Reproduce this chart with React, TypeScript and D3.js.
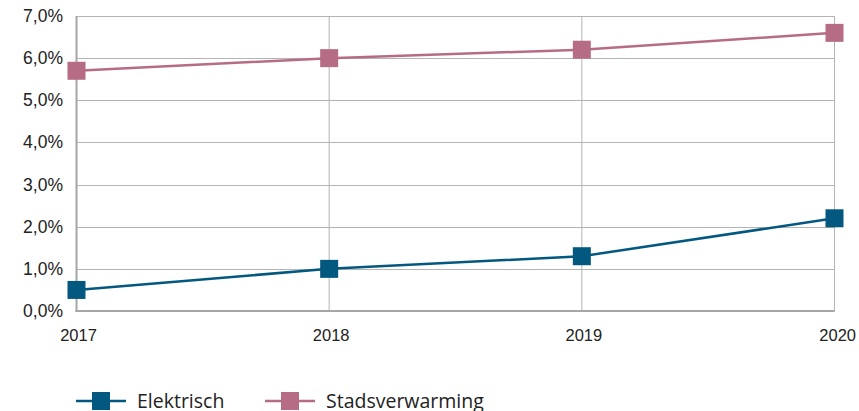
import React from "react";
import * as d3 from "d3";

const years = ["2017", "2018", "2019", "2020"];
const elektrisch = [0.5, 1.0, 1.3, 2.2];
const stadsverwarming = [5.7, 6.0, 6.2, 6.6];
const yTicks = [0, 1, 2, 3, 4, 5, 6, 7];

const series = [
  { name: "Elektrisch", values: elektrisch, color: "#03587f" },
  { name: "Stadsverwarming", values: stadsverwarming, color: "#b76c85" },
];

export default function App() {
  const W = 859, H = 411;
  const left = 76.5, right = 834.5, top = 16, bottom = 311;
  const x = d3.scalePoint<string>().domain(years).range([left, right]);
  const y = d3.scaleLinear().domain([0, 7]).range([bottom, top]);
  const line = d3.line<number>().x((_, i) => x(years[i])!).y((v) => y(v));
  const fmt = (v: number) => v.toFixed(1).replace(".", ",") + "%";
  const ms = 18;
  return (
    <svg width={W} height={H} style={{ position: "absolute", left: 0, top: 0 }}>
      <rect width={W} height={H} fill="#fff" />
      {yTicks.map((t) => (
        <line key={"g" + t} x1={left} x2={right} y1={Math.round(y(t)) + 0.5} y2={Math.round(y(t)) + 0.5} stroke="#b4b4b4" strokeWidth={1} />
      ))}
      {years.map((yr) => (
        <line key={"v" + yr} x1={x(yr)} x2={x(yr)} y1={top} y2={bottom} stroke="#b4b4b4" strokeWidth={1} />
      ))}
      <line x1={left} x2={left} y1={top} y2={bottom + 1} stroke="#a6a6a6" strokeWidth={2} />
      <line x1={left - 1} x2={right} y1={bottom} y2={bottom} stroke="#a6a6a6" strokeWidth={2} />
      {yTicks.map((t) => (
        <text key={"t" + t} x={63} y={y(t) + 6} textAnchor="end" fontFamily="Liberation Sans, Arial, sans-serif" fontSize={17.5} fill="#222">
          {fmt(t)}
        </text>
      ))}
      {years.map((yr, i) => (
        <text key={"x" + yr} x={i === years.length - 1 ? 856 : x(yr)! + 2} y={341} textAnchor={i === years.length - 1 ? "end" : "middle"} fontFamily="Liberation Sans, Arial, sans-serif" fontSize={16.5} fill="#222">
          {yr}
        </text>
      ))}
      {series.map((s) => (
        <g key={s.name}>
          <path d={line(s.values)!} fill="none" stroke={s.color} strokeWidth={2.5} />
          {s.values.map((v, i) => (
            <rect key={i} x={x(years[i])! - ms / 2} y={y(v) - ms / 2} width={ms} height={ms} fill={s.color} />
          ))}
        </g>
      ))}
      {series.map((s, i) => {
        const lx = i === 0 ? 76 : 265;
        return (
          <g key={"l" + s.name}>
            <line x1={lx} x2={lx + 50} y1={401} y2={401} stroke={s.color} strokeWidth={2.5} />
            <rect x={lx + 16} y={392} width={18} height={18} fill={s.color} />
            <text x={lx + 61} y={408} fontFamily="Open Sans, Roboto, sans-serif" fontSize={19.5} fill="#222">
              {s.name}
            </text>
          </g>
        );
      })}
    </svg>
  );
}
